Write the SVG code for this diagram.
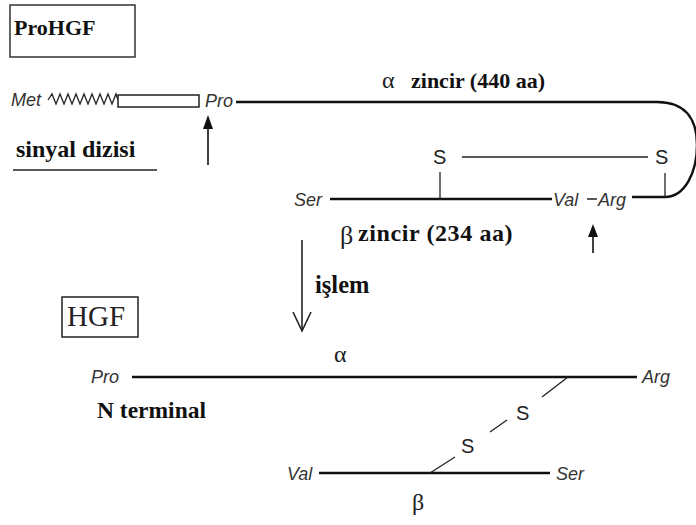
<svg xmlns="http://www.w3.org/2000/svg" width="696" height="525" viewBox="0 0 696 525">
<style>
.ser{font-family:"Liberation Serif","Times New Roman",serif;font-weight:bold;fill:#111}
.it{font-family:"Liberation Sans",Arial,sans-serif;font-style:italic;fill:#333;font-size:18px}
.s{font-family:"Liberation Sans",Arial,sans-serif;fill:#222;font-size:20px}
.gr{font-family:"Liberation Serif","Times New Roman",serif;fill:#222}
.chain{fill:none;stroke:#111;stroke-width:2.4}
.thin{fill:none;stroke:#222;stroke-width:1.3}
.box{fill:none;stroke:#333;stroke-width:1.5}
.head{fill:#111}
</style>
<rect width="696" height="525" fill="#fff"/>

<g id="prohgf-label">
<rect class="box" x="10" y="5" width="125" height="52"/>
<text class="ser" x="14" y="35" font-size="22">ProHGF</text>
</g>

<g id="signal">
<text class="it" x="11" y="106">Met</text>
<polyline class="thin" points="48,100 52,94 56,104 60,94 64,104 68,94 72,104 76,94 80,104 84,94 88,104 92,94 96,104 100,94 104,104 108,94 112,104 116,94 118,100"/>
<rect x="118" y="95" width="81" height="12" fill="#fff" stroke="#222" stroke-width="1.5"/>
<text class="ser" x="16" y="157" font-size="24">sinyal dizisi</text>
<line x1="13" y1="170" x2="157" y2="170" stroke="#222" stroke-width="1.3"/>
</g>

<g id="prohgf-chain">
<text class="it" x="205" y="107">Pro</text>
<path class="chain" d="M236,102 L657,102 C690,102 697,125 697,145 C697,172 685,197 665,197 L632,197"/>
<text class="gr" x="382" y="88" font-size="24">α</text>
<text class="ser" x="411" y="88" font-size="22">zincir (440 aa)</text>
<text class="it" x="294" y="206">Ser</text>
<line class="chain" x1="330" y1="199" x2="552" y2="199"/>
<text class="it" x="553" y="206">Val</text>
<line x1="587" y1="199" x2="597" y2="199" stroke="#222" stroke-width="1.5"/>
<text class="it" x="598" y="206">Arg</text>
<text class="s" x="433" y="164">S</text>
<text class="s" x="655" y="164">S</text>
<line class="thin" x1="462" y1="157" x2="648" y2="157"/>
<line class="thin" x1="440" y1="172" x2="440" y2="199"/>
<line class="thin" x1="665" y1="173" x2="665" y2="197"/>
<text class="gr" x="340" y="244" font-size="26">β</text>
<text class="ser" x="358" y="241" font-size="24" letter-spacing="0.6">zincir (234 aa)</text>
</g>

<g id="hgf-label">
<rect x="62" y="297" width="76" height="40" fill="none" stroke="#222" stroke-width="1.5"/>
<text class="gr" x="67" y="326" font-size="29">HGF</text>
</g>

<g id="hgf-chain">
<text class="it" x="91" y="383" font-size="17">Pro</text>
<line class="chain" x1="132" y1="377" x2="637" y2="377"/>
<text class="it" x="642" y="383">Arg</text>
<text class="gr" x="334" y="362" font-size="24">α</text>
<text class="ser" x="97" y="418" font-size="23.5">N terminal</text>
<text class="it" x="287" y="480">Val</text>
<line class="chain" x1="319" y1="473" x2="550" y2="473"/>
<text class="it" x="556" y="480" font-size="17">Ser</text>
<text class="gr" x="412" y="510" font-size="24">β</text>
<text class="s" x="516" y="420">S</text>
<text class="s" x="461" y="453">S</text>
</g>

<g id="connectors">
<line x1="208" y1="165" x2="208" y2="126" stroke="#111" stroke-width="1.6"/>
<polygon class="head" points="208,115 203,129 213,129"/>
<line x1="593" y1="253" x2="593" y2="235" stroke="#111" stroke-width="1.6"/>
<polygon class="head" points="593,224 588,237 598,237"/>
<line x1="302" y1="240" x2="302" y2="331" stroke="#222" stroke-width="1.6"/>
<polyline points="293,312 302,331 311,312" fill="none" stroke="#222" stroke-width="1.6"/>
<text class="ser" x="315" y="293" font-size="24.5">işlem</text>
<line class="thin" x1="568" y1="377" x2="542" y2="397" stroke-width="1.6"/>
<line class="thin" x1="490" y1="432" x2="507" y2="420" stroke-width="1.6"/>
<line class="thin" x1="455" y1="457" x2="430" y2="473" stroke-width="1.6"/>
</g>
</svg>
